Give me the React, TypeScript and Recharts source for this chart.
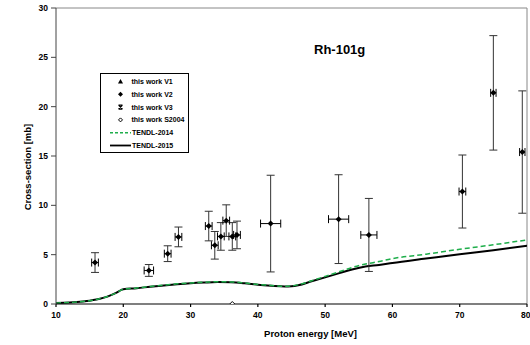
import { ComposedChart, Line, Scatter, XAxis, YAxis, ErrorBar, ReferenceLine, Label } from 'recharts';

// TENDL curves
const tendlE = [10, 12, 14, 15, 16, 17, 18, 19, 19.8, 20, 22, 24, 26, 28, 30, 32, 34, 36, 38, 40, 42, 44, 45, 46, 48, 50, 52, 54, 56, 58, 60, 65, 70, 75, 80];
const tendl2015 = [0.1, 0.15, 0.25, 0.33, 0.45, 0.62, 0.85, 1.15, 1.45, 1.5, 1.6, 1.75, 1.88, 2.0, 2.1, 2.17, 2.22, 2.2, 2.1, 1.95, 1.85, 1.78, 1.8, 1.9, 2.3, 2.7, 3.1, 3.5, 3.8, 3.95, 4.15, 4.6, 5.05, 5.45, 5.9];
const tendl2014 = [0.1, 0.15, 0.25, 0.33, 0.45, 0.62, 0.85, 1.15, 1.45, 1.5, 1.62, 1.78, 1.92, 2.04, 2.14, 2.21, 2.26, 2.24, 2.13, 1.98, 1.88, 1.8, 1.83, 1.95, 2.35, 2.8, 3.25, 3.7, 4.05, 4.3, 4.6, 5.05, 5.55, 6.0, 6.5];

// this work (measured)
const expE = [15.8, 23.8, 26.6, 28.2, 32.7, 33.6, 34.5, 35.3, 36.2, 36.9, 41.9, 52.0, 56.5, 70.4, 75.0, 79.3];
const expXs = [4.2, 3.4, 5.1, 6.8, 7.9, 5.95, 6.85, 8.45, 6.85, 7.0, 8.15, 8.6, 7.0, 11.4, 21.4, 15.4];
const expDx = [0.5, 0.7, 0.5, 0.5, 0.5, 0.5, 0.5, 0.5, 0.5, 0.5, 1.5, 1.5, 1.2, 0.5, 0.4, 0.4];
const expDy = [1.0, 0.6, 0.8, 1.0, 1.5, 1.4, 1.4, 1.6, 1.4, 1.4, 4.9, 4.5, 3.7, 3.7, 5.8, 6.2];

// S2004
const s2004E = [36.2];
const s2004Xs = [0.0];

const curve2015 = tendlE.map((x, i) => ({ x, y: tendl2015[i] }));
const curve2014 = tendlE.map((x, i) => ({ x, y: tendl2014[i] }));
const expData = expE.map((x, i) => ({ x, y: expXs[i], ex: expDx[i], ey: expDy[i] }));
const sData = s2004E.map((x, i) => ({ x, y: s2004Xs[i] }));

const font = 'Arial, "Liberation Sans", sans-serif';

const Diamond = (p: any) => {
  const { cx, cy } = p;
  return <path d={`M${cx},${cy - 3}L${cx + 3},${cy}L${cx},${cy + 3}L${cx - 3},${cy}Z`} fill="#000" />;
};
const OpenDiamond = (p: any) => {
  const { cx, cy } = p;
  return <path d={`M${cx},${cy - 2.5}L${cx + 2.5},${cy}L${cx},${cy + 2.5}L${cx - 2.5},${cy}Z`} fill="#fff" stroke="#000" strokeWidth={1} />;
};

const legendRows = [
  { name: 'this work V1', kind: 'tri' },
  { name: 'this work  V2', kind: 'dia' },
  { name: 'this work V3', kind: 'x' },
  { name: 'this work S2004', kind: 'odia' },
  { name: 'TENDL-2014', kind: 'dash' },
  { name: 'TENDL-2015', kind: 'line' },
];

function LegendBox() {
  return (
    <svg width={89} height={80} style={{ display: 'block' }}>
      <rect x={0.5} y={0.5} width={88} height={79} fill="#fff" stroke="#000" />
      {legendRows.map((r, i) => {
        const y = 8.5 + i * 12.8;
        const mx = 20.5;
        let mark: any = null;
        if (r.kind === 'tri') mark = <path d={`M${mx},${y - 2.5}L${mx + 2.5},${y + 2}L${mx - 2.5},${y + 2}Z`} fill="#000" />;
        if (r.kind === 'dia') mark = <path d={`M${mx},${y - 2.5}L${mx + 2.5},${y}L${mx},${y + 2.5}L${mx - 2.5},${y}Z`} fill="#000" />;
        if (r.kind === 'x') mark = <path d={`M${mx - 2},${y - 2}L${mx + 2},${y + 2}M${mx + 2},${y - 2}L${mx - 2},${y + 2}M${mx - 2},${y - 2}L${mx + 2},${y - 2}M${mx - 2},${y + 2}L${mx + 2},${y + 2}`} stroke="#000" strokeWidth={1.2} />;
        if (r.kind === 'odia') mark = <path d={`M${mx},${y - 2}L${mx + 2},${y}L${mx},${y + 2}L${mx - 2},${y}Z`} fill="#fff" stroke="#000" />;
        if (r.kind === 'dash') mark = <line x1={10} x2={31} y1={y} y2={y} stroke="#1fae4b" strokeWidth={1.5} strokeDasharray="3 2" />;
        if (r.kind === 'line') mark = <line x1={10} x2={31} y1={y} y2={y} stroke="#000" strokeWidth={1.8} />;
        const tx = r.kind === 'dash' || r.kind === 'line' ? 32 : 31.5;
        return (
          <g key={r.name}>
            {mark}
            <text x={tx} y={y + 2.5} fontSize={7} fontWeight="bold" fontFamily={font} fill="#000">{r.name}</text>
          </g>
        );
      })}
    </svg>
  );
}

export default function App() {
  return (
    <div style={{ position: 'absolute', left: 0, top: 0, width: 530, height: 345, background: '#fff' }}>
      <ComposedChart width={530} height={345} margin={{ top: 8, right: 3, bottom: 0, left: 0 }}>
        <XAxis
          type="number"
          dataKey="x"
          domain={[10, 80]}
          ticks={[10, 20, 30, 40, 50, 60, 70, 80]}
          allowDataOverflow
          height={41}
          tickSize={3}
          tickMargin={5}
          stroke="#000"
          strokeWidth={1.2}
          tick={{ fontSize: 8.5, fontWeight: 'bold', fontFamily: font, fill: '#000' }}
        >
          <Label value="Proton energy [MeV]" position="insideBottom" offset={8} dx={19} style={{ fontSize: 9.5, fontWeight: 'bold', fontFamily: font, fill: '#000' }} />
        </XAxis>
        <YAxis
          type="number"
          dataKey="y"
          domain={[0, 30]}
          ticks={[0, 5, 10, 15, 20, 25, 30]}
          allowDataOverflow
          width={56}
          tickSize={5}
          tickMargin={3}
          stroke="#444"
          tick={{ fontSize: 8.5, fontWeight: 'bold', fontFamily: font, fill: '#000' }}
        >
          <Label value="Cross-section [mb]" angle={-90} position="insideLeft" offset={28} dy={11} style={{ textAnchor: 'middle', fontSize: 9.5, fontWeight: 'bold', fontFamily: font, fill: '#000' }} />
        </YAxis>
        <ReferenceLine y={30} stroke="#888" />
        <ReferenceLine x={80} stroke="#888" />
        <Line data={curve2015} dataKey="y" type="monotone" stroke="#000" strokeWidth={2} dot={false} isAnimationActive={false} />
        <Line data={curve2014} dataKey="y" type="monotone" stroke="#1fae4b" strokeWidth={1.5} strokeDasharray="5 3" dot={false} isAnimationActive={false} />
        <Scatter data={expData} dataKey="y" shape={Diamond} isAnimationActive={false}>
          <ErrorBar dataKey="ey" direction="y" width={4} stroke="#333" strokeWidth={1} />
          <ErrorBar dataKey="ex" direction="x" width={4} stroke="#000" strokeWidth={1} />
        </Scatter>
        <Scatter data={sData} dataKey="y" shape={OpenDiamond} isAnimationActive={false} />
      </ComposedChart>
      <div style={{ position: 'absolute', left: 99.5, top: 73 }}>
        <LegendBox />
      </div>
      <div style={{ position: 'absolute', left: 314, top: 41.5, fontFamily: font, fontWeight: 'bold', fontSize: 13, lineHeight: '15px', color: '#000' }}>Rh-101g</div>
    </div>
  );
}
